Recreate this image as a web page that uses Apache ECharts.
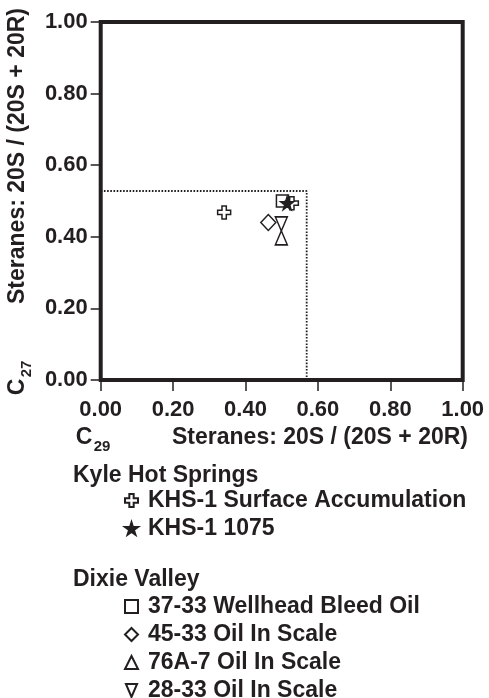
<!DOCTYPE html>
<html>
<head>
<meta charset="utf-8">
<script src="https://cdn.jsdelivr.net/npm/echarts@6/dist/echarts.min.js"></script>
<style>
  html, body { margin: 0; padding: 0; background: #fff; }
  #main { width: 489px; height: 698px; }
</style>
</head>
<body>
<div id="main"></div>
<script>
// data
var xTicks = [0, 0.2, 0.4, 0.6, 0.8, 1.0];
var cutoffX = 0.569;   // dotted guide, C29 ratio
var cutoffY = 0.528;   // dotted guide, C27 ratio

var khsSurface = [[0.341, 0.468], [0.528, 0.494]];
var khs1075 = [[0.515, 0.494]];
var wellhead3733 = [[0.502, 0.500]];
var scale4533 = [[0.463, 0.440]];
var scale76A7 = [[0.499, 0.397]];
var scale2833 = [[0.499, 0.436]];

var groupKhs = ['KHS-1 Surface Accumulation', 'KHS-1 1075'];
var groupDixie = ['37-33 Wellhead Bleed Oil', '45-33 Oil In Scale', '76A-7 Oil In Scale', '28-33 Oil In Scale'];

var ink = '#231f20';
var font = '"Liberation Sans", Arial, Helvetica, sans-serif';

var crossPath = 'path://M4,0H8V4H12V8H8V12H4V8H0V4H4Z';
var starPath = 'path://M50,0L61,35L98,35L68,57L79,91L50,70L21,91L32,57L2,35L39,35Z';
var downTri = 'path://M0,0L12,0L6,14Z';

var myChart = echarts.init(document.getElementById('main'));

function pts(name, data, symbol, size, fill, z) {
    return {
        name: name,
        type: 'scatter',
        data: data,
        symbol: symbol,
        symbolSize: size,
        z: z || 2,
        itemStyle: { color: fill, borderColor: ink, borderWidth: 1.5, opacity: 1 }
    };
}

var legendText = { fontFamily: font, fontWeight: 'bold', fontSize: 23, color: ink, padding: [0, 0, 0, 5] };

var option = {
    animation: false,
    grid: {
        left: 100.7, right: 26.3, top: 22, bottom: 318,
        show: true, borderColor: ink, borderWidth: 4, backgroundColor: 'transparent'
    },
    xAxis: {
        type: 'value', min: 0, max: 1, interval: 0.2,
        axisLine: { show: false },
        axisTick: { show: true, length: 11, lineStyle: { color: ink, width: 1.5 } },
        splitLine: { show: false },
        axisLabel: {
            margin: 19, fontFamily: font, fontWeight: 'bold', fontSize: 22, color: ink,
            formatter: function (v) { return v.toFixed(2); }
        }
    },
    yAxis: {
        type: 'value', min: 0, max: 1, interval: 0.2,
        axisLine: { show: false },
        axisTick: { show: true, length: 10, lineStyle: { color: ink, width: 1.5 } },
        splitLine: { show: false },
        axisLabel: {
            margin: 13, fontFamily: font, fontWeight: 'bold', fontSize: 22, color: ink,
            formatter: function (v) { return v.toFixed(2); }
        }
    },
    legend: [
        {
            data: groupKhs, orient: 'vertical', left: 124, top: 489, width: 360, height: 150, padding: 0,
            itemGap: 5, itemWidth: 13, itemHeight: 13, textStyle: legendText,
            selectedMode: false
        },
        {
            data: groupDixie, orient: 'vertical', left: 124, top: 595, width: 360, height: 150, padding: 0,
            itemGap: 5, itemWidth: 13, itemHeight: 13, textStyle: legendText,
            selectedMode: false
        }
    ],
    graphic: [
        { type: 'text', x: 18, y: 156, rotation: Math.PI / 2,
          style: { text: 'Steranes: 20S / (20S + 20R)', align: 'center', verticalAlign: 'middle',
                   font: 'bold 23px ' + font, fill: ink } },
        { type: 'text', x: 18, y: 387, rotation: Math.PI / 2,
          style: { text: 'C', align: 'center', verticalAlign: 'middle', font: 'bold 23px ' + font, fill: ink } },
        { type: 'text', x: 27, y: 369, rotation: Math.PI / 2,
          style: { text: '27', align: 'center', verticalAlign: 'middle', font: 'bold 15px ' + font, fill: ink } },
        { type: 'text', x: 320, y: 438,
          style: { text: 'Steranes: 20S / (20S + 20R)', align: 'center', verticalAlign: 'middle',
                   font: 'bold 23px ' + font, fill: ink } },
        { type: 'text', x: 84, y: 438,
          style: { text: 'C', align: 'center', verticalAlign: 'middle', font: 'bold 23px ' + font, fill: ink } },
        { type: 'text', x: 102, y: 447,
          style: { text: '29', align: 'center', verticalAlign: 'middle', font: 'bold 15px ' + font, fill: ink } },
        { type: 'text', x: 73, y: 476,
          style: { text: 'Kyle Hot Springs', align: 'left', verticalAlign: 'middle', font: 'bold 23px ' + font, fill: ink } },
        { type: 'text', x: 73, y: 580,
          style: { text: 'Dixie Valley', align: 'left', verticalAlign: 'middle', font: 'bold 23px ' + font, fill: ink } }
    ],
    series: [
        {
            name: 'guide',
            type: 'line',
            data: [[0, cutoffY], [cutoffX, cutoffY], [cutoffX, 0]],
            symbol: 'none',
            silent: true,
            lineStyle: { color: ink, width: 1.8, type: [1.6, 1.6] },
            z: 1
        },
        pts(groupDixie[0], wellhead3733, 'rect', 12, '#fff'),
        pts(groupDixie[1], scale4533, 'diamond', [15, 16], '#fff'),
        pts(groupDixie[2], scale76A7, 'triangle', [12, 14], '#fff'),
        pts(groupDixie[3], scale2833, downTri, [12, 14], '#fff'),
        pts(groupKhs[0], khsSurface, crossPath, 13, '#fff', 3),
        pts(groupKhs[1], khs1075, starPath, 13, ink, 4)
    ]
};

myChart.setOption(option);
</script>
</body>
</html>
